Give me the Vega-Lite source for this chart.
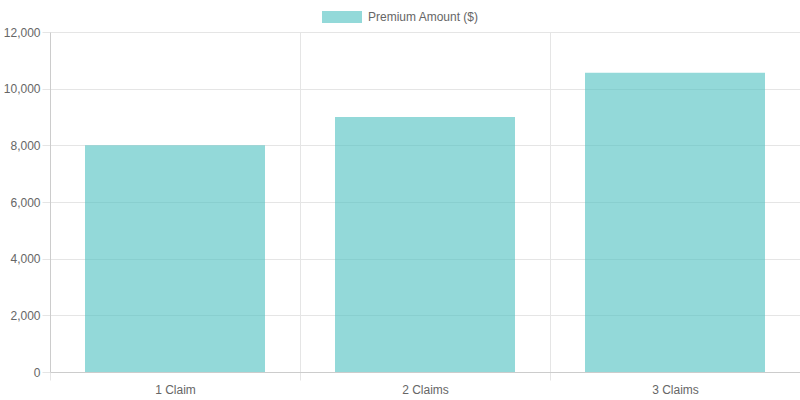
{
  "$schema": "https://vega.github.io/schema/vega-lite/v6.json",
  "width": 750,
  "height": 340,
  "autosize": {"type": "none"},
  "padding": {"left": 50, "top": 32, "right": 0, "bottom": 28},
  "config": {
    "view": {"stroke": null},
    "font": "Liberation Sans"
  },
  "data": {
    "values": [
      {"claims": "1 Claim", "premium": 8000, "series": "Premium Amount ($)"},
      {"claims": "2 Claims", "premium": 9000, "series": "Premium Amount ($)"},
      {"claims": "3 Claims", "premium": 10560, "series": "Premium Amount ($)"}
    ]
  },
  "mark": {"type": "bar", "opacity": 0.6, "width": {"band": 0.72}},
  "encoding": {
    "x": {
      "field": "claims",
      "type": "nominal",
      "sort": null,
      "scale": {"paddingInner": 0, "paddingOuter": 0},
      "axis": {
        "title": null,
        "labelAngle": 0,
        "tickBand": "extent",
        "grid": true,
        "gridColor": "#e5e5e5",
        "tickColor": "#e5e5e5",
        "tickSize": 8,
        "domainColor": "#cccccc",
        "labelPadding": 4,
        "labelFontSize": 12,
        "labelColor": "#666666"
      }
    },
    "y": {
      "field": "premium",
      "type": "quantitative",
      "scale": {"domain": [0, 12000], "nice": false},
      "axis": {
        "title": null,
        "values": [0, 2000, 4000, 6000, 8000, 10000, 12000],
        "format": ",d",
        "grid": true,
        "gridColor": "#e5e5e5",
        "tickColor": "#e5e5e5",
        "tickSize": 8,
        "domainColor": "#cccccc",
        "labelPadding": 2,
        "labelFontSize": 12,
        "labelColor": "#666666"
      }
    },
    "color": {
      "field": "series",
      "type": "nominal",
      "scale": {"range": ["#4bc0c0"]},
      "legend": {
        "title": null,
        "orient": "none",
        "legendX": 272,
        "legendY": -35,
        "symbolType": "M-1,-0.3H1V0.3H-1Z",
        "symbolSize": 1600,
        "symbolOpacity": 0.6,
        "symbolStrokeWidth": 0,
        "labelFontSize": 12,
        "labelColor": "#666666",
        "labelOffset": 6
      }
    }
  }
}
